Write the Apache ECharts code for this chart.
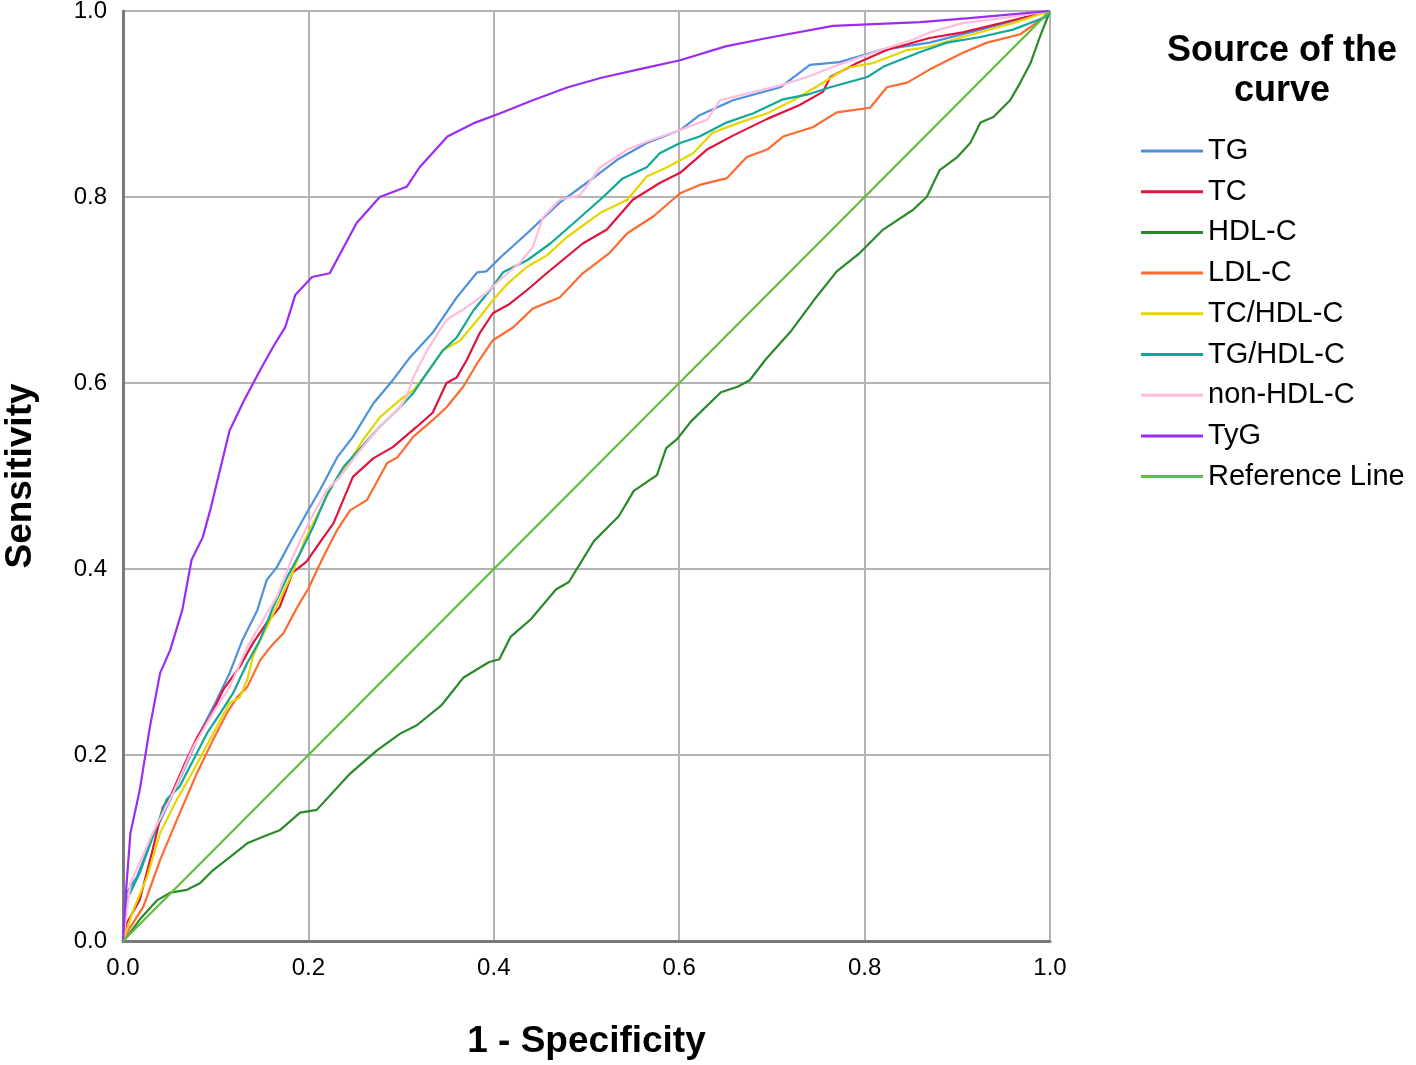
<!DOCTYPE html>
<html>
<head>
<meta charset="utf-8">
<title>ROC curves</title>
<script src="https://cdn.jsdelivr.net/npm/echarts@6/dist/echarts.min.js"></script>
<style>
    html, body { margin: 0; padding: 0; background: #fff; }
    #main { width: 1416px; height: 1065px; }
</style>
</head>
<body>
<div id="main"></div>
<script>
    // 曲线数据: [1 - Specificity, Sensitivity]
    var tg = [[0,0],[0.004,0.052],[0.015,0.069],[0.032,0.112],[0.051,0.152],[0.069,0.191],[0.083,0.224],[0.101,0.259],[0.115,0.288],[0.129,0.324],[0.145,0.356],[0.155,0.388],[0.166,0.402],[0.18,0.428],[0.198,0.46],[0.2125,0.485],[0.231,0.52],[0.248,0.542],[0.27,0.578],[0.291,0.603],[0.31,0.628],[0.334,0.654],[0.36,0.692],[0.382,0.719],[0.392,0.72],[0.407,0.735],[0.436,0.761],[0.471,0.794],[0.504,0.818],[0.533,0.84],[0.565,0.858],[0.601,0.872],[0.622,0.888],[0.658,0.904],[0.709,0.918],[0.741,0.942],[0.773,0.945],[0.817,0.958],[0.87,0.966],[0.925,0.98],[1,1]];
    var tc = [[0,0],[0.004,0.019],[0.018,0.044],[0.032,0.098],[0.043,0.144],[0.051,0.155],[0.065,0.187],[0.08,0.219],[0.094,0.241],[0.108,0.27],[0.126,0.295],[0.14,0.32],[0.155,0.342],[0.169,0.359],[0.183,0.396],[0.198,0.408],[0.212,0.428],[0.227,0.449],[0.248,0.499],[0.27,0.519],[0.291,0.531],[0.317,0.553],[0.334,0.568],[0.349,0.6],[0.36,0.606],[0.371,0.625],[0.385,0.654],[0.399,0.675],[0.417,0.685],[0.436,0.7],[0.457,0.718],[0.496,0.75],[0.522,0.765],[0.55,0.797],[0.579,0.815],[0.601,0.826],[0.63,0.851],[0.658,0.866],[0.695,0.884],[0.73,0.899],[0.755,0.913],[0.763,0.929],[0.792,0.944],[0.824,0.958],[0.87,0.971],[0.906,0.977],[0.96,0.99],[1,1]];
    var hdl = [[0,0],[0.004,0.004],[0.018,0.023],[0.037,0.044],[0.051,0.052],[0.069,0.055],[0.083,0.062],[0.097,0.076],[0.115,0.09],[0.134,0.105],[0.151,0.112],[0.169,0.119],[0.191,0.138],[0.209,0.141],[0.245,0.18],[0.274,0.205],[0.299,0.223],[0.317,0.232],[0.344,0.254],[0.367,0.283],[0.395,0.3],[0.406,0.303],[0.418,0.327],[0.44,0.346],[0.467,0.378],[0.481,0.386],[0.508,0.43],[0.535,0.457],[0.551,0.484],[0.576,0.501],[0.586,0.53],[0.598,0.54],[0.613,0.559],[0.645,0.59],[0.663,0.596],[0.676,0.603],[0.693,0.625],[0.72,0.655],[0.746,0.69],[0.77,0.72],[0.795,0.74],[0.82,0.765],[0.852,0.786],[0.867,0.8],[0.881,0.829],[0.9,0.843],[0.914,0.858],[0.925,0.88],[0.939,0.886],[0.957,0.904],[0.968,0.923],[0.979,0.944],[0.989,0.972],[1,1]];
    var ldl = [[0,0],[0.008,0.015],[0.022,0.037],[0.04,0.087],[0.058,0.13],[0.08,0.181],[0.097,0.216],[0.112,0.245],[0.123,0.262],[0.134,0.273],[0.148,0.302],[0.159,0.316],[0.173,0.331],[0.188,0.359],[0.2,0.379],[0.216,0.413],[0.231,0.442],[0.245,0.463],[0.263,0.474],[0.285,0.514],[0.296,0.52],[0.313,0.542],[0.334,0.56],[0.349,0.574],[0.367,0.596],[0.382,0.621],[0.399,0.646],[0.421,0.66],[0.442,0.68],[0.471,0.692],[0.496,0.718],[0.525,0.74],[0.544,0.761],[0.572,0.779],[0.601,0.804],[0.622,0.813],[0.651,0.82],[0.673,0.843],[0.695,0.851],[0.712,0.865],[0.744,0.875],[0.77,0.891],[0.806,0.896],[0.824,0.918],[0.846,0.923],[0.87,0.937],[0.906,0.955],[0.932,0.966],[0.968,0.975],[0.989,0.99],[1,1]];
    var tcHdl = [[0,0],[0.011,0.033],[0.026,0.069],[0.04,0.116],[0.058,0.152],[0.072,0.176],[0.086,0.202],[0.101,0.23],[0.115,0.256],[0.126,0.262],[0.134,0.281],[0.14,0.305],[0.148,0.324],[0.159,0.345],[0.169,0.367],[0.183,0.396],[0.196,0.431],[0.205,0.449],[0.227,0.492],[0.242,0.512],[0.259,0.539],[0.277,0.563],[0.299,0.582],[0.313,0.592],[0.328,0.611],[0.345,0.635],[0.364,0.646],[0.385,0.671],[0.399,0.689],[0.414,0.706],[0.436,0.725],[0.457,0.737],[0.479,0.757],[0.515,0.783],[0.544,0.797],[0.565,0.822],[0.587,0.832],[0.615,0.847],[0.636,0.869],[0.665,0.88],[0.695,0.89],[0.723,0.904],[0.752,0.921],[0.781,0.939],[0.809,0.944],[0.846,0.958],[0.867,0.961],[0.906,0.972],[0.96,0.987],[1,1]];
    var tgHdl = [[0,0],[0.004,0.044],[0.018,0.073],[0.032,0.112],[0.047,0.152],[0.061,0.166],[0.076,0.195],[0.091,0.224],[0.105,0.245],[0.119,0.267],[0.134,0.299],[0.148,0.324],[0.162,0.359],[0.177,0.391],[0.191,0.417],[0.205,0.445],[0.22,0.48],[0.238,0.51],[0.259,0.533],[0.277,0.553],[0.296,0.571],[0.313,0.589],[0.328,0.611],[0.345,0.635],[0.36,0.649],[0.378,0.678],[0.396,0.7],[0.41,0.719],[0.436,0.732],[0.461,0.75],[0.493,0.778],[0.518,0.8],[0.539,0.82],[0.565,0.832],[0.579,0.847],[0.601,0.858],[0.622,0.865],[0.651,0.88],[0.68,0.89],[0.712,0.905],[0.738,0.91],[0.763,0.918],[0.803,0.929],[0.82,0.94],[0.86,0.956],[0.889,0.966],[0.925,0.972],[0.96,0.98],[0.997,0.994],[1,1]];
    var nonHdl = [[0,0],[0.008,0.062],[0.032,0.116],[0.054,0.159],[0.076,0.209],[0.097,0.245],[0.115,0.273],[0.134,0.316],[0.151,0.345],[0.166,0.37],[0.183,0.413],[0.202,0.453],[0.22,0.485],[0.234,0.499],[0.256,0.528],[0.277,0.553],[0.299,0.574],[0.306,0.585],[0.313,0.606],[0.328,0.635],[0.349,0.668],[0.367,0.679],[0.392,0.697],[0.41,0.714],[0.428,0.729],[0.442,0.746],[0.453,0.778],[0.471,0.797],[0.493,0.802],[0.515,0.832],[0.544,0.851],[0.569,0.861],[0.601,0.872],[0.63,0.883],[0.644,0.904],[0.709,0.92],[0.738,0.929],[0.766,0.94],[0.817,0.958],[0.852,0.969],[0.87,0.977],[0.906,0.987],[0.96,0.994],[1,1]];
    var tyg = [[0,0],[0.003,0.05],[0.008,0.116],[0.018,0.162],[0.029,0.23],[0.04,0.288],[0.051,0.313],[0.064,0.356],[0.074,0.41],[0.086,0.434],[0.094,0.463],[0.115,0.549],[0.13,0.58],[0.148,0.614],[0.162,0.639],[0.175,0.66],[0.186,0.695],[0.204,0.714],[0.223,0.718],[0.252,0.772],[0.277,0.8],[0.306,0.811],[0.32,0.832],[0.35,0.865],[0.38,0.88],[0.407,0.89],[0.442,0.904],[0.48,0.918],[0.515,0.928],[0.56,0.938],[0.601,0.947],[0.65,0.962],[0.695,0.971],[0.766,0.984],[0.86,0.988],[0.91,0.992],[1,1]];
    var refLine = [[0,0],[1,1]];

    var seriesNames = ['TG', 'TC', 'HDL-C', 'LDL-C', 'TC/HDL-C', 'TG/HDL-C', 'non-HDL-C', 'TyG', 'Reference Line'];
    var seriesData = [tg, tc, hdl, ldl, tcHdl, tgHdl, nonHdl, tyg, refLine];
    var seriesColors = ['#4f8fe0', '#e0143c', '#2a8a2a', '#ff6a30', '#e6d600', '#12a898', '#ffbcdc', '#9b2cf5', '#5cbf3a'];
    var tickLabels = ['0.0', '0.2', '0.4', '0.6', '0.8', '1.0'];

    var font = '"Liberation Sans", Arial, sans-serif';
    var myChart = echarts.init(document.getElementById('main'));

    var series = [];
    for (var i = 0; i < seriesNames.length; i++) {
        series.push({
            name: seriesNames[i],
            type: 'line',
            data: seriesData[i],
            showSymbol: false,
            symbol: 'none',
            color: seriesColors[i],
            lineStyle: { width: 2.2, color: seriesColors[i] },
            animation: false
        });
    }

    function tickFmt(v) {
        return tickLabels[Math.round(v * 5)];
    }

    myChart.setOption({
        backgroundColor: '#fff',
        animation: false,
        title: {
            text: 'Source of the\ncurve',
            left: 1277,
            top: 26,
            textAlign: 'center',
            textStyle: { fontFamily: font, fontSize: 36, fontWeight: 'bold', color: '#000', lineHeight: 40 }
        },
        legend: {
            orient: 'vertical',
            left: 1136,
            top: 131,
            itemWidth: 62,
            itemHeight: 3,
            itemGap: 10.7,
            icon: 'rect',
            data: seriesNames,
            textStyle: { fontFamily: font, fontSize: 29, color: '#000', lineHeight: 30, padding: [0, 0, 0, 0] }
        },
        grid: { left: 123, right: 366, top: 11, bottom: 124, containLabel: false, outerBoundsMode: 'none' },
        xAxis: {
            type: 'value',
            min: 0, max: 1, interval: 0.2,
            name: '1 - Specificity',
            nameLocation: 'middle',
            nameGap: 82,
            nameTextStyle: { fontFamily: font, fontSize: 37, fontWeight: 'bold', color: '#000' },
            axisLine: { show: true, lineStyle: { color: '#7a7a7a', width: 3 } },
            axisTick: { show: false },
            axisLabel: { formatter: tickFmt, fontFamily: font, fontSize: 24, color: '#000', margin: 15 },
            splitLine: { show: true, lineStyle: { color: '#b4b4b4', width: 2 } }
        },
        yAxis: {
            type: 'value',
            min: 0, max: 1, interval: 0.2,
            name: 'Sensitivity',
            nameLocation: 'middle',
            nameRotate: 90,
            nameGap: 84,
            nameTextStyle: { fontFamily: font, fontSize: 37, fontWeight: 'bold', color: '#000' },
            axisLine: { show: true, lineStyle: { color: '#7a7a7a', width: 3 } },
            axisTick: { show: false },
            axisLabel: { formatter: tickFmt, fontFamily: font, fontSize: 24, color: '#000', margin: 16 },
            splitLine: { show: true, lineStyle: { color: '#b4b4b4', width: 2 } }
        },
        series: series
    });
</script>
</body>
</html>
